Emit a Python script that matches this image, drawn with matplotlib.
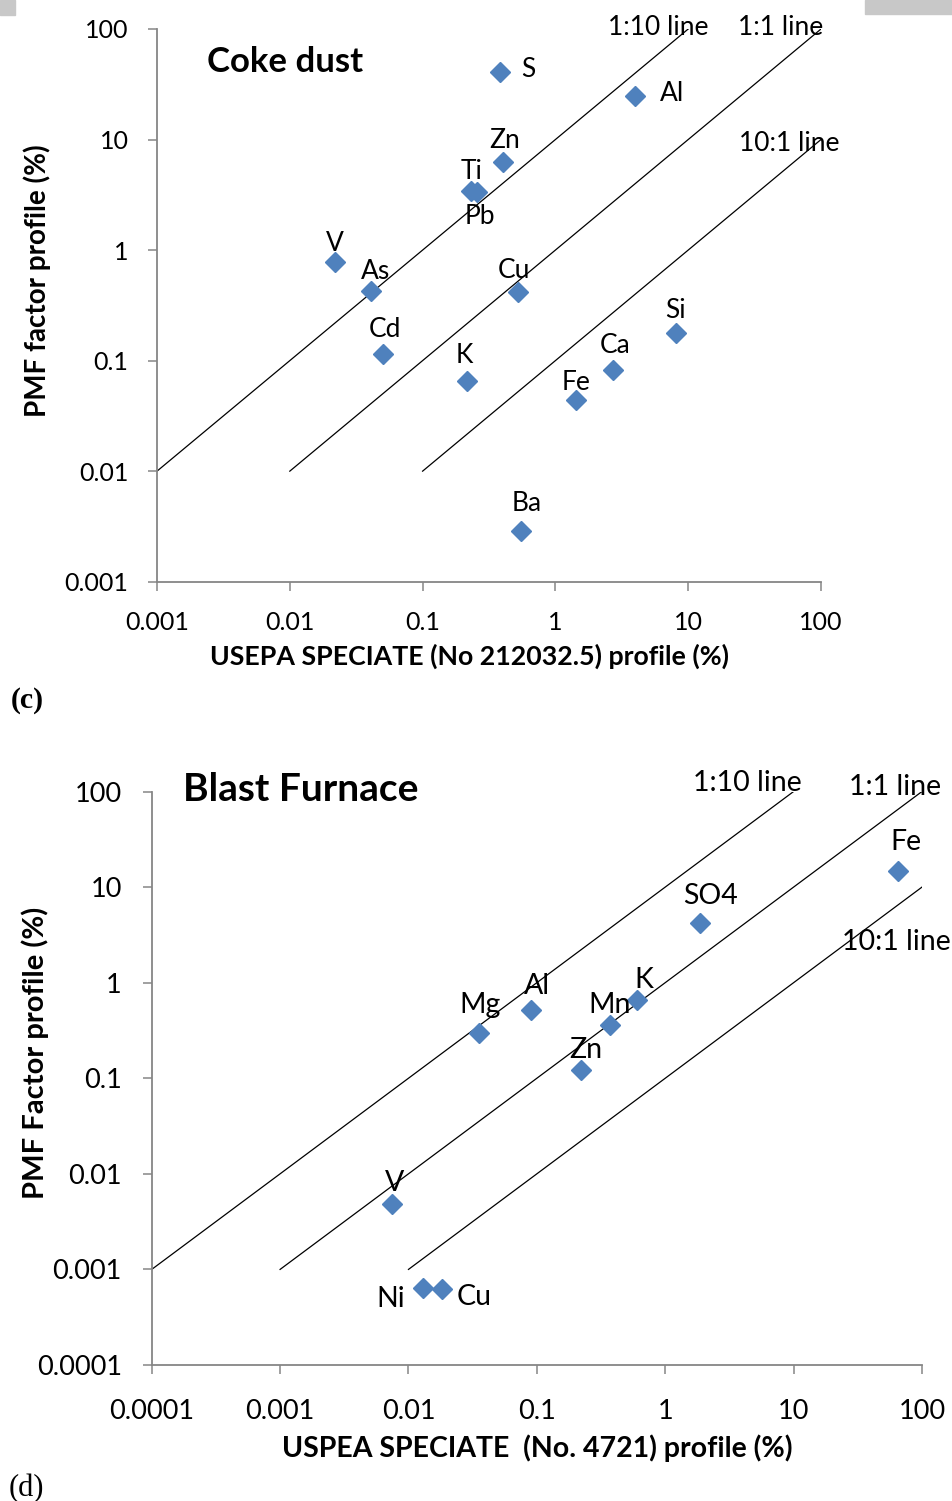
"""
PMF factor profiles vs USEPA SPECIATE profiles (coke dust, blast furnace)
"""

import numpy as np
import matplotlib
matplotlib.use("Agg")
import matplotlib.pyplot as plt
from matplotlib.patches import Rectangle

plt.rcParams["font.family"] = ["Lato", "DejaVu Sans"]

# (c) coke dust
c_species = ["S", "Al", "Zn", "Ti", "Pb", "V", "As", "Cd", "K", "Cu", "Fe", "Ca", "Si", "Ba"]
c_speciate = [0.38, 4.0, 0.40, 0.23, 0.255, 0.022, 0.041, 0.050, 0.215, 0.52, 1.44, 2.73, 8.1, 0.555]
c_pmf = [41, 24.7, 6.2, 3.4, 3.35, 0.78, 0.43, 0.115, 0.066, 0.42, 0.0436, 0.0815, 0.176, 0.0029]

# (d) blast furnace
d_species = ["Fe", "SO4", "K", "Mn", "Zn", "Al", "Mg", "V", "Ni", "Cu"]
d_speciate = [65, 1.85, 0.60, 0.37, 0.22, 0.09, 0.0354, 0.0074, 0.0130, 0.0181]
d_pmf = [14.9, 4.19, 0.665, 0.358, 0.121, 0.52, 0.298, 0.00479, 0.000643, 0.000624]

# reference lines: PMF = ratio * SPECIATE
line_names = ["1:10 line", "1:1 line", "10:1 line"]
line_ratio = [10, 1, 0.1]
c_line_xmin = [0.001, 0.01, 0.1]
c_line_xmax = [10, 100, 100]
d_line_xmin = [0.0001, 0.001, 0.01]
d_line_xmax = [10, 100, 100]

# label offsets in pixels from the marker
c_offsets = {"S": (29, 2), "Al": (37, 3), "Zn": (2, 22), "Ti": (1, 20), "Pb": (3, -24),
             "V": (0, 19), "As": (4, 19), "Cd": (2, 24), "K": (-2, 25), "Cu": (-4, 21),
             "Fe": (0, 18), "Ca": (2, 25), "Si": (-1, 23), "Ba": (5, 27)}
d_offsets = {"Fe": (8, 29), "SO4": (11, 27), "K": (7, 20), "Mn": (0, 20), "Zn": (5, 20),
             "Al": (6, 24), "Mg": (1, 28), "V": (3, 21), "Ni": (-32, -11), "Cu": (33, -8)}
c_line_label_pos = [(5.94, 103.5), (50, 103.5), (57.4, 9.23)]
d_line_label_pos = [(4.35, 121.8), (62.2, 112), (63.7, 2.69)]

BLUE = "#4F81BD"
GREY = "#868686"

fig = plt.figure(figsize=(9.53, 15.01), dpi=100)
ax1 = fig.add_axes([157 / 953, 1 - 581.7 / 1501, (821 - 157) / 953, (581.7 - 29) / 1501])
ax2 = fig.add_axes([151.7 / 953, 1 - 1365 / 1501, (922 - 151.7) / 953, (1365 - 791.5) / 1501])


def style_axis(ax, ticks, fs, xpad, ypad):
    ax.set_xscale("log")
    ax.set_yscale("log")
    ax.set_xlim(ticks[0], ticks[-1])
    ax.set_ylim(ticks[0], ticks[-1])
    labels = [f"{t:g}" if t >= 1 else f"{t:.{int(round(-np.log10(t)))}f}" for t in ticks]
    ax.set_xticks(ticks, labels)
    ax.set_yticks(ticks, labels)
    ax.minorticks_off()
    for s in ["top", "right"]:
        ax.spines[s].set_visible(False)
    for s in ["left", "bottom"]:
        ax.spines[s].set_color(GREY)
        ax.spines[s].set_linewidth(1.3)
    ax.tick_params(axis="both", direction="out", length=6.5, width=1.1,
                   color=GREY, labelsize=fs)
    ax.tick_params(axis="x", pad=xpad)
    ax.tick_params(axis="y", pad=ypad)
    ax.patch.set_alpha(0)


def draw_panel(ax, x, y, names, offsets, xmin, xmax, label_pos, fs):
    for r, x0, x1, name, (lx, ly) in zip(line_ratio, xmin, xmax, line_names, label_pos):
        xs = np.array([x0, x1])
        ax.plot(xs, r * xs, color="black", lw=0.9, zorder=2)
        ax.text(lx, ly, name, ha="center", va="center", fontsize=fs, zorder=4)
    ax.plot(x, y, "D", color=BLUE, ms=10, mec=BLUE, ls="none", zorder=3, clip_on=False)
    for xi, yi, n in zip(x, y, names):
        ax.annotate(n, (xi, yi), xytext=offsets[n], textcoords="offset pixels",
                    ha="center", va="center", fontsize=fs, zorder=4)


# panel (c)
style_axis(ax1, [0.001, 0.01, 0.1, 1, 10, 100], 18, 14.5, 14)
draw_panel(ax1, c_speciate, c_pmf, c_species, c_offsets, c_line_xmin, c_line_xmax,
           c_line_label_pos, 19)
ax1.text(0.075, 0.94, "Coke dust", transform=ax1.transAxes, fontsize=25,
         fontweight="bold", ha="left", va="center")
ax1.set_xlabel("USEPA SPECIATE (No 212032.5) profile (%)", fontsize=19.3, fontweight="bold")
ax1.set_ylabel("PMF factor profile (%)", fontsize=20, fontweight="bold")
ax1.xaxis.set_label_coords(0.470, -0.113)
ax1.yaxis.set_label_coords(-0.160, 0.544)

# panel (d)
style_axis(ax2, [0.0001, 0.001, 0.01, 0.1, 1, 10, 100], 19.5, 18, 15)
draw_panel(ax2, d_speciate, d_pmf, d_species, d_offsets, d_line_xmin, d_line_xmax,
           d_line_label_pos, 20.5)
ax2.text(0.040, 1.003, "Blast Furnace", transform=ax2.transAxes, fontsize=28,
         fontweight="bold", ha="left", va="center")
ax2.set_xlabel("USPEA SPECIATE  (No. 4721) profile (%)", fontsize=20.5, fontweight="bold")
ax2.set_ylabel("PMF Factor profile (%)", fontsize=21, fontweight="bold")
ax2.xaxis.set_label_coords(0.500, -0.121)
ax2.yaxis.set_label_coords(-0.133, 0.544)

# panel letters
fig.text(11 / 953, 1 - 701 / 1501, "(c)", family="Liberation Serif", fontsize=21.5,
         fontweight="bold", ha="left", va="center")
fig.text(9 / 953, 1 - 1489 / 1501, "(d)", family="Liberation Serif", fontsize=22,
         ha="left", va="center")

# grey page strips at the top
fig.patches.append(Rectangle((0, 1 - 15 / 1501), 15 / 953, 15 / 1501,
                             transform=fig.transFigure, color="#c8c8c8"))
fig.patches.append(Rectangle((865 / 953, 1 - 14 / 1501), 88 / 953, 14 / 1501,
                             transform=fig.transFigure, color="#c8c8c8"))

fig.savefig("out.png", dpi=100)
